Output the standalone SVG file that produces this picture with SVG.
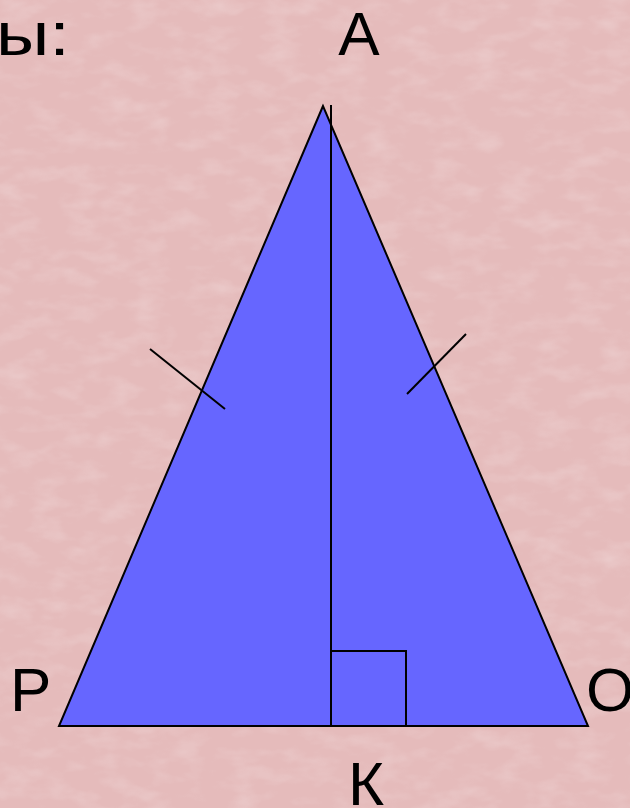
<svg xmlns="http://www.w3.org/2000/svg" width="630" height="808" viewBox="0 0 630 808">
<defs>
<filter id="tex" x="0" y="0" width="100%" height="100%">
<feTurbulence type="fractalNoise" baseFrequency="0.03 0.06" numOctaves="3" seed="4" result="n"/>
<feColorMatrix in="n" type="matrix" values="0 0 0 0 1  0 0 0 0 1  0 0 0 0 1  0 0 0 -1.6 0.9" result="w"/>
<feComposite in="w" in2="SourceGraphic" operator="in"/>
</filter>
<style>
.lbl{font-family:"Liberation Sans","DejaVu Sans",sans-serif;font-size:62px;fill:#000}
.ln{stroke:#000;stroke-width:2;fill:none}
</style>
</defs>
<rect width="630" height="808" fill="#e5bbbb"/>
<rect width="630" height="808" fill="#e5bbbb" filter="url(#tex)" opacity="0.25"/>
<g id="triangle">
<polygon points="323,106 59,726 588,726" fill="#6666ff" stroke="#000" stroke-width="2"/>
</g>
<g id="connectors">
<line class="ln" x1="331" y1="105" x2="331" y2="726"/>
<polyline class="ln" points="331,651 406,651 406,726"/>
<line class="ln" x1="150" y1="349" x2="225" y2="409"/>
<line class="ln" x1="466" y1="334" x2="407" y2="394"/>
</g>
<g id="labels">
<text class="lbl" x="-4" y="55" textLength="74" lengthAdjust="spacingAndGlyphs">ы:</text>
<text class="lbl" x="359" y="55" text-anchor="middle">A</text>
<text class="lbl" x="10" y="711">P</text>
<text class="lbl" x="586" y="711">O</text>
<text class="lbl" x="348" y="805">К</text>
</g>
</svg>
